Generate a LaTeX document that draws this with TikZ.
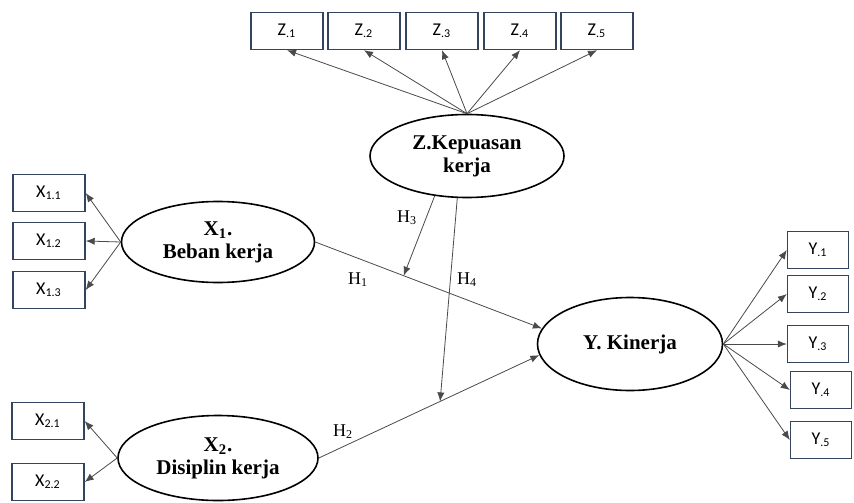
\documentclass[tikz,border=0pt]{standalone}
\usepackage{fontspec}
\setmainfont{Liberation Serif}
\newfontfamily\boxfont{Carlito}
\usetikzlibrary{shapes.geometric,positioning,arrows.meta}

\definecolor{boxline}{HTML}{34445C}
\definecolor{linegray}{HTML}{4A4A4A}

\begin{document}
\begin{tikzpicture}[
x=0.5pt, y=-0.5pt,
ind/.style={
  draw=boxline,
  line width=0.7pt,
  rectangle,
  minimum width=36pt,
  minimum height=18.5pt,
  inner sep=0pt,
  font=\boxfont\fontsize{9}{10}\selectfont
  },
lat/.style={
  draw,
  ellipse,
  line width=0.8pt,
  inner sep=0pt,
  align=center,
  font=\bfseries\fontsize{10.5}{11.5}\selectfont
  },
link/.style={
  ->,
  draw=linegray,
  line width=0.4pt
  },
hyp/.style={
  font=\fontsize{9}{10}\selectfont
  },
>={Latex[length=4.5pt,width=3.6pt]}
]
\useasboundingbox (0,0) rectangle (854,502);

% latent variables
\node[lat, minimum width=97pt, minimum height=41.5pt] (zk) at (467,156) {Z.Kepuasan\\kerja};
\node[lat, minimum width=96.5pt, minimum height=40.5pt] (x1) at (218,242) {X\textsubscript{1}.\\Beban kerja};
\node[lat, minimum width=100pt, minimum height=42.5pt] (x2) at (218,458) {X\textsubscript{2}.\\Disiplin kerja};
\node[lat, minimum width=92.5pt, minimum height=46.5pt] (yk) at (630,344) {Y. Kinerja};

% indicators
\foreach \i/\x in {1/287,2/364,3/442,4/520,5/597}
  \node[ind] (z\i) at (\x,31) {Z\textsubscript{.\i}};
\foreach \i/\y in {1/193,2/241,3/290}
  \node[ind] (x1\i) at (49,\y) {X\textsubscript{1.\i}};
\foreach \i/\y in {1/421,2/482}
  \node[ind] (x2\i) at (48,\y) {X\textsubscript{2.\i}};
\foreach \i/\x/\y in {1/818/250,2/818/294,3/818/344,4/821/390,5/821/440}
  \node[ind, minimum width=30.5pt] (y\i) at (\x,\y) {Y\textsubscript{.\i}};

\foreach \i in {1,...,5}
  \draw[link] (zk.north) -- (z\i.south);
\foreach \i in {1,2,3}
  \draw[link] (x1.west) -- (x1\i.east);
\foreach \i in {1,2}
  \draw[link] (x2.west) -- (x2\i.east);
\foreach \i in {1,...,5}
  \draw[link] (yk.east) -- (y\i.west);

% structural paths
\draw[link] (x1.east) -- coordinate[pos=0.39] (m1) (yk.170);
\draw[link] (x2.east) -- coordinate[pos=0.55] (m2) (yk.187);
\draw[link] (zk.231) -- (m1);
\draw[link] (zk.257) -- (m2);

\node[hyp] (h1) at (358,280) {H\textsubscript{1}};
\node[hyp] (h2) at (343,432) {H\textsubscript{2}};
\node[hyp] (h3) at (407,218) {H\textsubscript{3}};
\node[hyp] (h4) at (467,280) {H\textsubscript{4}};

\end{tikzpicture}
\end{document}
